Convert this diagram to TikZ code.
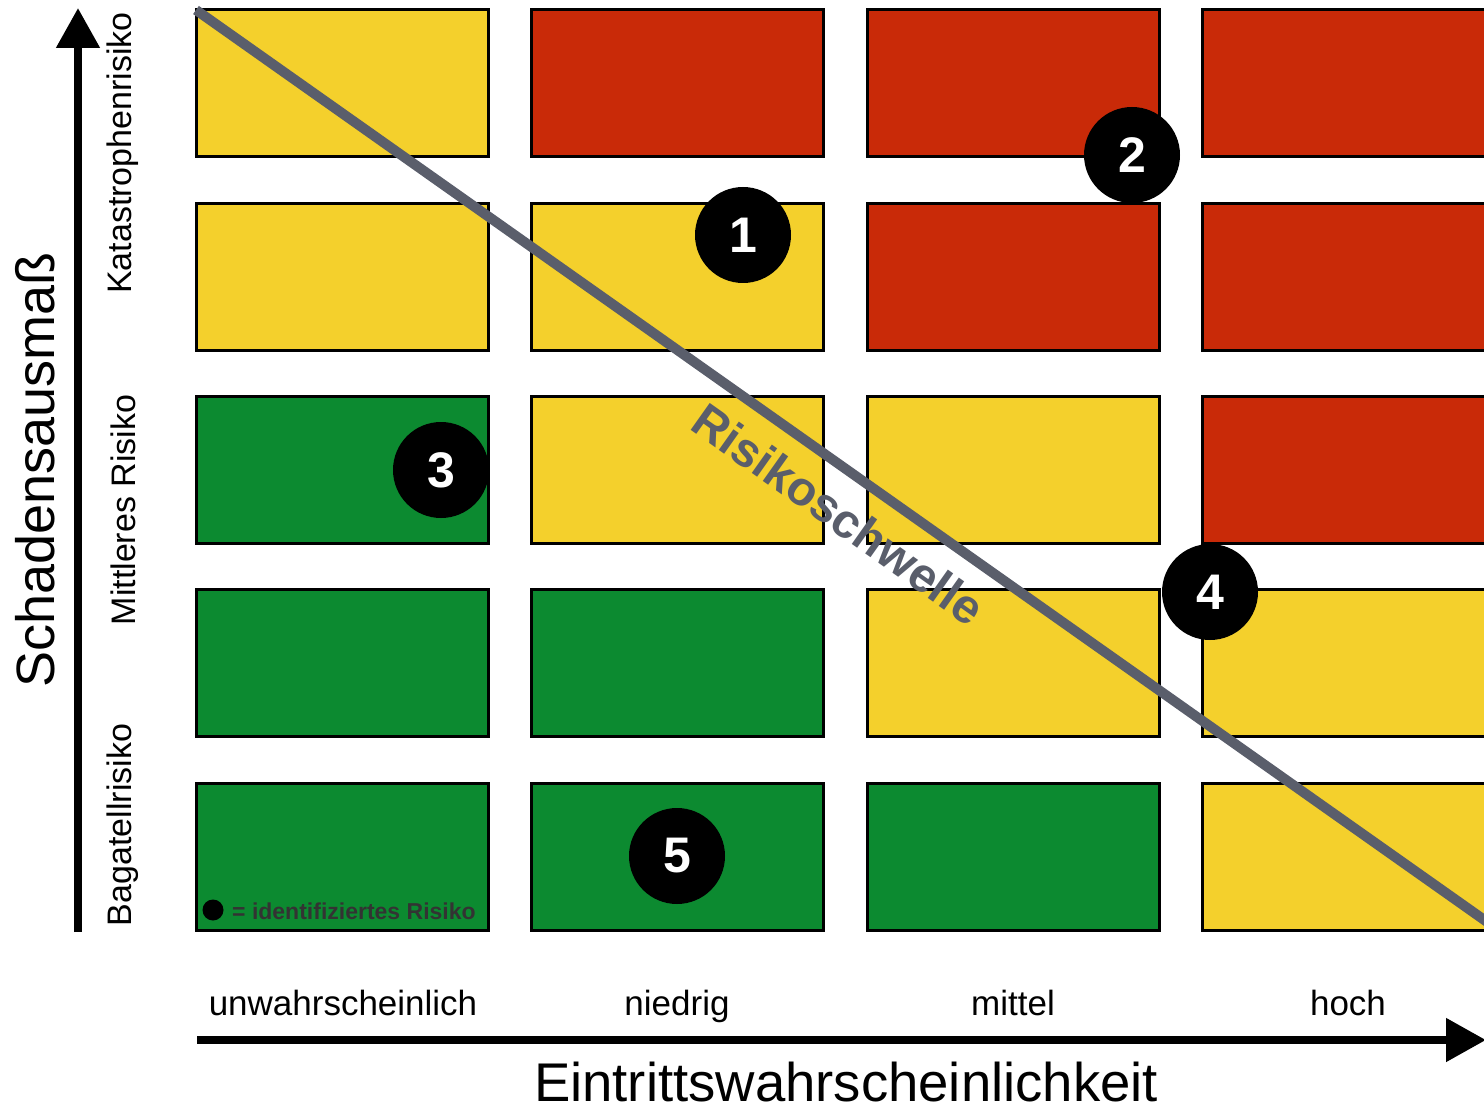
\documentclass[tikz,border=0pt]{standalone}
\usepackage{fontspec}
\setmainfont{Liberation Sans}
\usetikzlibrary{arrows.meta}

\definecolor{gelb}{HTML}{F4D02C}
\definecolor{rot}{HTML}{C92A08}
\definecolor{gruen}{HTML}{0C8A30}
\definecolor{schwelle}{HTML}{5A5E6B}

\begin{document}
\begin{tikzpicture}[x=1pt, y=-1pt,
	cell/.style={draw=black, line width=3pt},
	achse/.style={line width=8pt, -{Triangle[length=40pt, width=42pt]}},
	risiko/.style={circle, fill=black, minimum size=96pt, inner sep=0pt, text=white, font=\fontsize{50}{50}\selectfont\bfseries},
	klasse/.style={rotate=90, font=\fontsize{34}{34}\selectfont},
	stufe/.style={anchor=base, font=\fontsize{35}{35}\selectfont}]
	\clip (0,0) rectangle (1484,1107);
	% Matrix
	\foreach \r/\cols in {0/{gelb,rot,rot,rot}, 1/{gelb,gelb,rot,rot}, 2/{gruen,gelb,gelb,rot},
			3/{gruen,gruen,gelb,gelb}, 4/{gruen,gruen,gruen,gelb}} {
		\foreach \c [count=\k from 0] in \cols {
			\draw[cell, fill=\c] ({196+\k*335.5},{10+\r*193.25}) rectangle ++(292,147);
		}
	}
	% Risikoschwelle
	\coordinate (s0) at (196,10);
	\coordinate (s1) at (1490,924);
	\draw[schwelle, line width=10pt] (s0) -- (s1);
	\node[schwelle, rotate=-35.3, font=\fontsize{48}{48}\selectfont\bfseries] (schwelle) at (839,514) {Risikoschwelle};
	% identifizierte Risiken
	\node[risiko] (r1) at (743,235) {1};
	\node[risiko] (r2) at (1132,155) {2};
	\node[risiko] (r3) at (441,470) {3};
	\node[risiko] (r4) at (1210,592) {4};
	\node[risiko] (r5) at (677,856) {5};
	\node[circle, fill=black, minimum size=21pt, inner sep=0pt] (leg) at (213,910) {};
	\node[anchor=west, text=black!80, inner sep=0pt, font=\fontsize{23}{23}\selectfont\bfseries] (legtext) at (232,911) {= identifiziertes Risiko};
	% Achsen
	\coordinate (y0) at (78,932);
	\coordinate (y1) at (78,8);
	\draw[achse] (y0) -- (y1);
	\coordinate (x0) at (197,1040);
	\coordinate (x1) at (1486,1040);
	\draw[achse] (x0) -- (x1);
	\node[rotate=90, font=\fontsize{54}{54}\selectfont] (ylab) at (35,470) {Schadensausmaß};
	\node[anchor=base, inner sep=0pt, font=\fontsize{54.5}{54.5}\selectfont] (xlab) at (846,1101) {Eintrittswahrscheinlichkeit};
	\node[klasse] (k1) at (123,153) {Katastrophenrisiko};
	\node[klasse] (k2) at (123,510) {Mittleres Risiko};
	\node[klasse] (k3) at (123,825) {Bagatellrisiko};
	\node[stufe] (e1) at (343,1015) {unwahrscheinlich};
	\node[stufe] (e2) at (677,1015) {niedrig};
	\node[stufe] (e3) at (1013,1015) {mittel};
	\node[stufe] (e4) at (1348,1015) {hoch};
\end{tikzpicture}
\end{document}
